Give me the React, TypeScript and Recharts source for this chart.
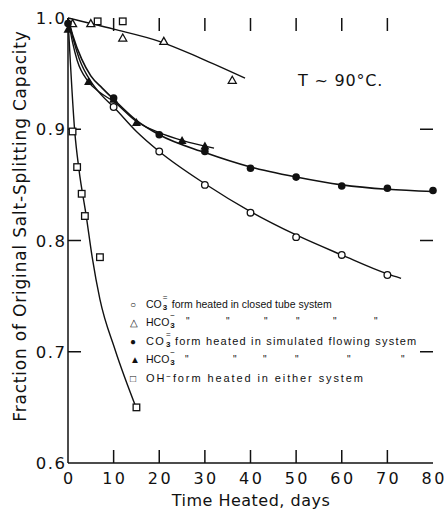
import React from "react";
import {
  ComposedChart,
  Line,
  ReferenceLine,
  Scatter,
  XAxis,
  YAxis,
} from "recharts";

// measured points (day, fraction)
const closedCO3Pts = [
  { day: 10, v: 0.92 }, { day: 20, v: 0.88 }, { day: 30, v: 0.85 }, { day: 40, v: 0.825 },
  { day: 50, v: 0.803 }, { day: 60, v: 0.787 }, { day: 70, v: 0.769 },
];
const closedHCO3Pts = [
  { day: 1, v: 0.995 }, { day: 5, v: 0.995 }, { day: 12, v: 0.982 }, { day: 21, v: 0.979 }, { day: 36, v: 0.944 },
];
const flowCO3Pts = [
  { day: 0, v: 0.995 }, { day: 10, v: 0.928 }, { day: 20, v: 0.895 }, { day: 30, v: 0.88 }, { day: 40, v: 0.865 },
  { day: 50, v: 0.857 }, { day: 60, v: 0.849 }, { day: 70, v: 0.847 }, { day: 80, v: 0.845 },
];
const flowHCO3Pts = [
  { day: 0, v: 0.99 }, { day: 4.5, v: 0.943 }, { day: 10, v: 0.927 }, { day: 15, v: 0.906 }, { day: 25, v: 0.89 }, { day: 30, v: 0.885 },
];
const ohPts = [
  { day: 1, v: 0.898 }, { day: 2, v: 0.866 }, { day: 3, v: 0.842 }, { day: 3.7, v: 0.822 },
  { day: 7, v: 0.785 }, { day: 15, v: 0.65 }, { day: 6.5, v: 0.997 }, { day: 12, v: 0.997 },
];

// fitted curves
const closedCO3Curve = [
  { day: 0, v: 1.0 }, { day: 1, v: 0.983 }, { day: 2.5, v: 0.963 }, { day: 5, v: 0.943 }, { day: 7.5, v: 0.93 },
  { day: 10, v: 0.92 }, { day: 15, v: 0.898 }, { day: 20, v: 0.88 }, { day: 30, v: 0.851 }, { day: 40, v: 0.826 },
  { day: 50, v: 0.805 }, { day: 60, v: 0.787 }, { day: 70, v: 0.77 }, { day: 73, v: 0.766 },
];
const flowCO3Curve = [
  { day: 0, v: 1.0 }, { day: 1, v: 0.985 }, { day: 3, v: 0.963 }, { day: 5, v: 0.948 }, { day: 7.5, v: 0.937 },
  { day: 10, v: 0.927 }, { day: 15, v: 0.908 }, { day: 20, v: 0.895 }, { day: 30, v: 0.879 }, { day: 40, v: 0.866 },
  { day: 50, v: 0.857 }, { day: 60, v: 0.85 }, { day: 70, v: 0.846 }, { day: 80, v: 0.844 },
];
const flowHCO3Curve = [
  { day: 0, v: 1.0 }, { day: 1, v: 0.978 }, { day: 2, v: 0.962 }, { day: 4.4, v: 0.943 }, { day: 7, v: 0.933 },
  { day: 10, v: 0.925 }, { day: 15, v: 0.907 }, { day: 20, v: 0.897 }, { day: 25, v: 0.89 }, { day: 32, v: 0.883 },
];
const closedHCO3Curve = [
  { day: 0, v: 1.0 }, { day: 10, v: 0.99 }, { day: 20, v: 0.979 }, { day: 29, v: 0.964 }, { day: 38.8, v: 0.946 },
];
const ohCurve = [
  { day: 0, v: 1.0 }, { day: 1.5, v: 0.897 }, { day: 2.4, v: 0.864 }, { day: 4, v: 0.822 }, { day: 5.3, v: 0.785 },
  { day: 7, v: 0.747 }, { day: 10.3, v: 0.702 }, { day: 15, v: 0.649 },
];

const xTicks = [0, 10, 20, 30, 40, 50, 60, 70, 80];
const yTicks = [0.6, 0.7, 0.8, 0.9, 1.0];
const X_MIN = 0, X_MAX = 80, Y_MIN = 0.6, Y_MAX = 1.0;

const FONT = "'DejaVu Sans', sans-serif";
const LFONT = "'Liberation Sans', sans-serif";
const INK = "#111";
// inward tick length, in data units (about 13px)
const TICK_DY = 0.0117;
const TICK_DX = 2.85;

const OpenCircle = (p: any) => <circle cx={p.cx} cy={p.cy} r={3.3} fill="#fff" stroke={INK} strokeWidth={1.3} />;
const FilledCircle = (p: any) => <circle cx={p.cx} cy={p.cy} r={3.8} fill={INK} />;
const OpenTri = (p: any) => (
  <polygon points={`${p.cx},${p.cy - 4} ${p.cx - 4},${p.cy + 3} ${p.cx + 4},${p.cy + 3}`} fill="#fff" stroke={INK} strokeWidth={1.3} />
);
const FilledTri = (p: any) => (
  <polygon points={`${p.cx},${p.cy - 4.5} ${p.cx - 4.5},${p.cy + 3.5} ${p.cx + 4.5},${p.cy + 3.5}`} fill={INK} />
);
const OpenSquare = (p: any) => (
  <rect x={p.cx - 3.3} y={p.cy - 3.3} width={6.6} height={6.6} fill="#fff" stroke={INK} strokeWidth={1.3} />
);

const bottomTick = (p: any) => (
  <text x={p.payload.coordinate + 1.2} y={p.y + 21} textAnchor="middle" fontSize={16} letterSpacing={2.4} fontFamily={FONT} fill={INK}>
    {p.payload.value}
  </text>
);
const leftTick = (p: any) => (
  <text x={p.x - 1.5} y={p.payload.coordinate + 6} textAnchor="end" fontSize={16.5} letterSpacing={1.5} fontFamily={FONT} fill={INK}>
    {Number(p.payload.value).toFixed(1)}
  </text>
);

const YLabel = () => (
  <text x={20} y={226} transform="rotate(-90 20 226)" textAnchor="middle" dominantBaseline="central"
    fontSize={17} fontFamily={FONT} fill={INK} letterSpacing={0.8}>
    Fraction of Original Salt-Splitting Capacity
  </text>
);
const XLabel = () => (
  <text x={251} y={506} textAnchor="middle" fontSize={16} fontFamily={FONT} fill={INK} letterSpacing={0.5}>Time Heated, days</text>
);

const Ion = ({ base, sup }: { base: string; sup: string }) => (
  <span style={{ display: "inline-block", whiteSpace: "nowrap" }}>
    {base}
    <span style={{ position: "relative", display: "inline-block", width: 7, height: 12, verticalAlign: "top" }}>
      <span style={{ position: "absolute", left: 1, top: -4, fontSize: 8, lineHeight: "8px" }}>{sup}</span>
      <span style={{ position: "absolute", left: 1, top: 6, fontSize: 8, lineHeight: "8px", fontWeight: "bold" }}>3</span>
    </span>
  </span>
);

const legendRows = [
  { y: 305, sym: "○", ion: true, base: "CO", sup: "=", text: "form heated in closed tube system", size: 10.5, ls: 0 },
  { y: 323, sym: "△", ion: true, base: "HCO", sup: "−", text: "", size: 10.5, ls: 0 },
  { y: 342, sym: "●", ion: true, base: "CO", sup: "=", text: "form heated in simulated flowing system", size: 11, ls: 1.2 },
  { y: 360, sym: "▲", ion: true, base: "HCO", sup: "−", text: "", size: 10.5, ls: 0 },
  { y: 379, sym: "□", ion: false, base: "OH", sup: "−", text: "form heated in either system", size: 11, ls: 1.9 },
];
const dittoRow2 = [186, 226, 264, 296, 333, 374];
const dittoRow4 = [185, 233, 263, 295, 347, 401];

const axisIds = { xAxisId: "b", yAxisId: "l" };

export default function App() {
  const innerX = xTicks.filter((t) => t > X_MIN && t < X_MAX);
  const innerY = yTicks.filter((t) => t > Y_MIN && t < Y_MAX);
  return (
    <div style={{ position: "absolute", left: 0, top: 0, width: 446, height: 509, background: "#fff", fontFamily: LFONT, color: INK }}>
      <ComposedChart width={446} height={509} margin={{ top: 18, right: 13, bottom: 0, left: 8 }}>
        <XAxis
          xAxisId="b" type="number" dataKey="day" domain={[X_MIN, X_MAX]} ticks={xTicks} interval={0}
          height={46} tickSize={0} tickMargin={0} tickLine={false} stroke={INK} strokeWidth={1.5}
          tick={bottomTick} label={<XLabel />}
        />
        <XAxis
          xAxisId="t" orientation="top" type="number" dataKey="day" domain={[X_MIN, X_MAX]} height={0}
          tick={false} tickLine={false} stroke={INK} strokeWidth={1.5}
        />
        <YAxis
          yAxisId="l" type="number" dataKey="v" domain={[Y_MIN, Y_MAX]} ticks={yTicks} width={60} interval={0}
          tickSize={0} tickMargin={0} tickLine={false} stroke={INK} strokeWidth={1.5}
          tick={leftTick} label={<YLabel />}
        />
        <YAxis
          yAxisId="r" orientation="right" type="number" dataKey="v" domain={[Y_MIN, Y_MAX]} width={0}
          tick={false} tickLine={false} stroke={INK} strokeWidth={1.5}
        />

        {/* inward tick marks on all four sides of the frame */}
        {innerX.map((t) => (
          <ReferenceLine key={"xb" + t} {...axisIds} segment={[{ x: t, y: Y_MIN }, { x: t, y: Y_MIN + TICK_DY }]} stroke={INK} strokeWidth={1.5} ifOverflow="visible" />
        ))}
        {innerX.map((t) => (
          <ReferenceLine key={"xt" + t} {...axisIds} segment={[{ x: t, y: Y_MAX }, { x: t, y: Y_MAX - TICK_DY }]} stroke={INK} strokeWidth={1.5} ifOverflow="visible" />
        ))}
        {innerY.map((t) => (
          <ReferenceLine key={"yl" + t} {...axisIds} segment={[{ x: X_MIN, y: t }, { x: X_MIN + TICK_DX, y: t }]} stroke={INK} strokeWidth={1.5} ifOverflow="visible" />
        ))}
        {innerY.map((t) => (
          <ReferenceLine key={"yr" + t} {...axisIds} segment={[{ x: X_MAX, y: t }, { x: X_MAX - TICK_DX, y: t }]} stroke={INK} strokeWidth={1.5} ifOverflow="visible" />
        ))}

        <Line {...axisIds} data={ohCurve} dataKey="v" type="monotone" stroke={INK} strokeWidth={1.4} dot={false} isAnimationActive={false} />
        <Line {...axisIds} data={closedCO3Curve} dataKey="v" type="monotone" stroke={INK} strokeWidth={1.4} dot={false} isAnimationActive={false} />
        <Line {...axisIds} data={closedHCO3Curve} dataKey="v" type="monotone" stroke={INK} strokeWidth={1.4} dot={false} isAnimationActive={false} />
        <Line {...axisIds} data={flowCO3Curve} dataKey="v" type="monotone" stroke={INK} strokeWidth={1.6} dot={false} isAnimationActive={false} />
        <Line {...axisIds} data={flowHCO3Curve} dataKey="v" type="monotone" stroke={INK} strokeWidth={1.4} dot={false} isAnimationActive={false} />

        <Scatter {...axisIds} data={closedCO3Pts} dataKey="v" shape={OpenCircle} isAnimationActive={false} />
        <Scatter {...axisIds} data={closedHCO3Pts} dataKey="v" shape={OpenTri} isAnimationActive={false} />
        <Scatter {...axisIds} data={flowCO3Pts} dataKey="v" shape={FilledCircle} isAnimationActive={false} />
        <Scatter {...axisIds} data={flowHCO3Pts} dataKey="v" shape={FilledTri} isAnimationActive={false} />
        <Scatter {...axisIds} data={ohPts} dataKey="v" shape={OpenSquare} isAnimationActive={false} />
      </ComposedChart>

      <div style={{ position: "absolute", left: 298, top: 71, fontSize: 16, fontFamily: FONT, letterSpacing: 0.8, whiteSpace: "nowrap" }}>T ~ 90°C.</div>

      {legendRows.map((r) => (
        <div key={r.y} style={{ position: "absolute", left: 130, top: r.y - 7, height: 12, fontSize: r.size, letterSpacing: r.ls, lineHeight: "12px", whiteSpace: "nowrap" }}>
          <span style={{ width: 16, fontSize: 10, letterSpacing: 0, display: "inline-block" }}>{r.sym}</span>
          {r.ion ? <Ion base={r.base} sup={r.sup} /> : <span>{r.base}<span style={{ position: "relative", top: -3, fontSize: 8 }}>{r.sup}</span></span>}
          {r.text ? <span style={{ marginLeft: r.ion ? 3 : 0 }}>{r.text}</span> : null}
        </div>
      ))}
      {dittoRow2.map((x) => (
        <div key={"a" + x} style={{ position: "absolute", left: x, top: 317, fontSize: 10, lineHeight: "10px", color: INK }}>"</div>
      ))}
      {dittoRow4.map((x) => (
        <div key={"b" + x} style={{ position: "absolute", left: x, top: 355, fontSize: 10, lineHeight: "10px", color: INK }}>"</div>
      ))}
    </div>
  );
}
